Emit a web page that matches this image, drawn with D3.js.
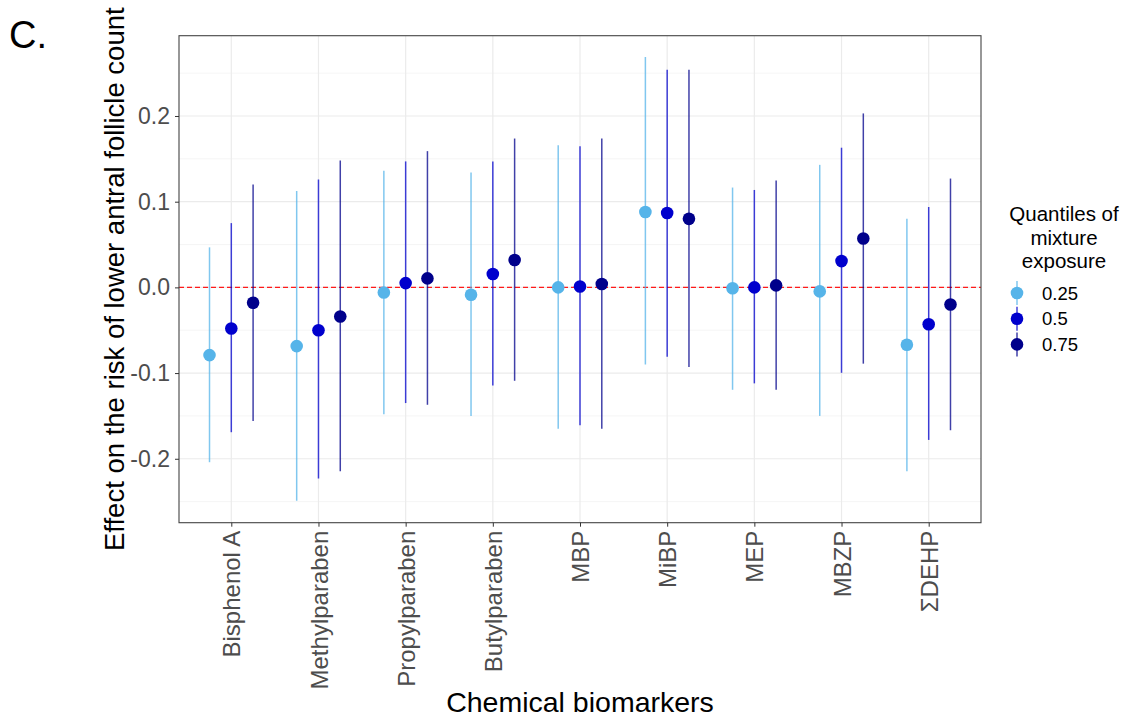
<!DOCTYPE html>
<html>
<head>
<meta charset="utf-8">
<script src="https://cdn.jsdelivr.net/npm/d3@7"></script>
<style>
  html, body { margin: 0; padding: 0; background: #fff; }
  svg { display: block; font-family: Arial, "Liberation Sans", sans-serif; }
</style>
</head>
<body>
<svg id="chart" width="1127" height="718"></svg>
<script>
// ---- data ----
const categories = ["Bisphenol A","Methylparaben","Propylparaben","Butylparaben","MBP","MiBP","MEP","MBZP","ΣDEHP"];
const quantiles = ["0.25","0.5","0.75"];
const est25 = [-0.079,-0.0685,-0.006,-0.0086,0.0,0.088,-0.001,-0.0047,-0.067];
const lo25  = [-0.204,-0.249,-0.148,-0.150,-0.165,-0.090,-0.1195,-0.150,-0.2146];
const hi25  = [0.0467,0.1125,0.136,0.134,0.166,0.2687,0.1165,0.143,0.080];
const est50 = [-0.048,-0.050,0.005,0.0156,0.001,0.0868,0.0,0.0307,-0.043];
const lo50  = [-0.169,-0.223,-0.135,-0.1145,-0.161,-0.081,-0.112,-0.0997,-0.178];
const hi50  = [0.075,0.126,0.147,0.147,0.1647,0.254,0.1137,0.163,0.0938];
const est75 = [-0.018,-0.034,0.0105,0.032,0.004,0.080,0.0023,0.057,-0.020];
const lo75  = [-0.156,-0.2146,-0.137,-0.109,-0.165,-0.093,-0.1195,-0.089,-0.1667];
const hi75  = [0.120,0.148,0.159,0.1737,0.1737,0.254,0.1246,0.203,0.127];
const yTicks = [-0.2,-0.1,0.0,0.1,0.2];
const yMinor = [-0.25,-0.15,-0.05,0.05,0.15,0.25];
const colors = ["#56B4E9","#0000CD","#00008B"];

const series = [
  {q: quantiles[0], est: est25, lo: lo25, hi: hi25},
  {q: quantiles[1], est: est50, lo: lo50, hi: hi50},
  {q: quantiles[2], est: est75, lo: lo75, hi: hi75}
];
const rows = [];
series.forEach(s => categories.forEach((c, i) => rows.push({cat: c, q: s.q, est: s.est[i], lo: s.lo[i], hi: s.hi[i]})));

// ---- layout ----
const svg = d3.select("#chart");
const P = {left: 179, right: 981, top: 35.7, bottom: 522.7};

const x = d3.scalePoint().domain(categories).range([P.left, P.right]).padding(0.6);
const step = x.step();
const dx = d3.scalePoint().domain(quantiles).range([-0.25 * step, 0.25 * step]);
const y = d3.scaleLinear().domain([-0.2746, 0.2937]).range([P.bottom, P.top]);
const color = d3.scaleOrdinal().domain(quantiles).range(colors);

// grid
const grid = svg.append("g");
grid.selectAll("line.minor").data(yMinor).join("line")
  .attr("x1", P.left).attr("x2", P.right)
  .attr("y1", d => y(d)).attr("y2", d => y(d))
  .attr("stroke", "#f2f2f2").attr("stroke-width", 0.8);
grid.selectAll("line.majy").data(yTicks).join("line")
  .attr("x1", P.left).attr("x2", P.right)
  .attr("y1", d => y(d)).attr("y2", d => y(d))
  .attr("stroke", "#ebebeb").attr("stroke-width", 1.2);
grid.selectAll("line.majx").data(categories).join("line")
  .attr("x1", d => x(d)).attr("x2", d => x(d))
  .attr("y1", P.top).attr("y2", P.bottom)
  .attr("stroke", "#ebebeb").attr("stroke-width", 1.2);

// zero reference line
svg.append("line")
  .attr("x1", P.left).attr("x2", P.right)
  .attr("y1", y(0)).attr("y2", y(0))
  .attr("stroke", "#ff1a1a").attr("stroke-width", 1.1)
  .attr("stroke-dasharray", "5,3");

// ranges
svg.append("g").selectAll("line").data(rows).join("line")
  .attr("x1", d => x(d.cat) + dx(d.q)).attr("x2", d => x(d.cat) + dx(d.q))
  .attr("y1", d => y(d.lo)).attr("y2", d => y(d.hi))
  .attr("stroke", d => color(d.q)).attr("stroke-width", 1.5).attr("stroke-opacity", 0.75);

// points
svg.append("g").selectAll("circle").data(rows).join("circle")
  .attr("cx", d => x(d.cat) + dx(d.q)).attr("cy", d => y(d.est))
  .attr("r", 6.3).attr("fill", d => color(d.q));

// panel border
svg.append("rect")
  .attr("x", P.left).attr("y", P.top)
  .attr("width", P.right - P.left).attr("height", P.bottom - P.top)
  .attr("fill", "none").attr("stroke", "#444").attr("stroke-width", 1.1);

// axes
const yAxis = svg.append("g").attr("transform", `translate(${P.left},0)`)
  .call(d3.axisLeft(y).tickValues(yTicks).tickFormat(d3.format(".1f")).tickSize(4).tickPadding(5));
yAxis.select(".domain").remove();
yAxis.selectAll(".tick line").attr("stroke", "#333");
yAxis.selectAll(".tick text").attr("fill", "#4d4d4d").style("font-size", "23px")
  .style("font-family", "Arial, 'Liberation Sans', sans-serif")
  .text(d => d3.format(".1f")(d).replace("−", "-"));

const xAxis = svg.append("g").attr("transform", `translate(0,${P.bottom})`)
  .call(d3.axisBottom(x).tickSize(4));
xAxis.select(".domain").remove();
xAxis.selectAll(".tick line").attr("stroke", "#333");
xAxis.selectAll(".tick text")
  .attr("fill", "#4d4d4d").style("font-size", "24px")
  .style("font-family", "Arial, 'Liberation Sans', sans-serif")
  .attr("transform", "rotate(-90)")
  .attr("x", -8).attr("y", 0).attr("dy", "0.36em")
  .attr("text-anchor", "end");

// axis titles
svg.append("text")
  .attr("x", (P.left + P.right) / 2).attr("y", 712)
  .attr("text-anchor", "middle").style("font-size", "28.5px").attr("fill", "#000")
  .text("Chemical biomarkers");
svg.append("text")
  .attr("transform", `translate(124,${(P.top + P.bottom) / 2}) rotate(-90)`)
  .attr("text-anchor", "middle").style("font-size", "27.5px").attr("fill", "#000")
  .text("Effect on the risk of lower antral follicle count");

// panel tag
svg.append("text").attr("x", 9).attr("y", 48)
  .style("font-size", "38px").attr("fill", "#000").text("C.");

// legend
const lg = svg.append("g");
["Quantiles of", "mixture", "exposure"].forEach((t, i) => {
  lg.append("text").attr("x", 1064).attr("y", 221 + i * 23.5)
    .attr("text-anchor", "middle").style("font-size", "20.5px").attr("fill", "#000").text(t);
});
const key = lg.selectAll("g.key").data(quantiles).join("g")
  .attr("transform", (d, i) => `translate(1017,${293 + i * 25.7})`);
key.append("line").attr("y1", -12).attr("y2", 12)
  .attr("stroke", d => color(d)).attr("stroke-width", 1.5).attr("stroke-opacity", 0.75);
key.append("circle").attr("r", 6.3).attr("fill", d => color(d));
key.append("text").attr("x", 25).attr("dy", "0.36em")
  .style("font-size", "18.5px").attr("fill", "#000").text(d => d);
</script>
</body>
</html>
